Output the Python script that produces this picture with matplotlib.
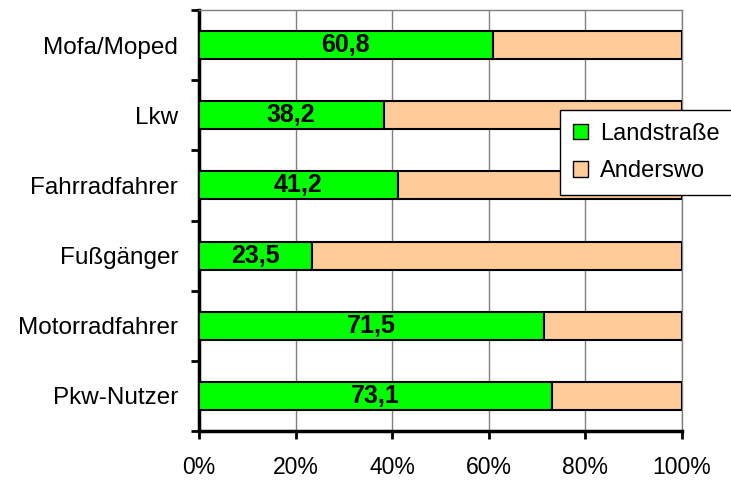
import numpy as np
import matplotlib
matplotlib.use('Agg')
import matplotlib.pyplot as plt

plt.rcParams['font.family'] = ['Liberation Sans', 'DejaVu Sans']

# Daten (von unten nach oben)
kategorien = ['Pkw-Nutzer', 'Motorradfahrer', 'Fußgänger', 'Fahrradfahrer', 'Lkw', 'Mofa/Moped']
landstrasse = [73.1, 71.5, 23.5, 41.2, 38.2, 60.8]
anderswo = [100 - v for v in landstrasse]

fig = plt.figure(figsize=(7.31, 4.82), dpi=100)
ax = fig.add_axes([0.2722, 0.1058, 0.6608, 0.8734])

y = np.arange(len(kategorien))
ax.barh(y, landstrasse, height=0.4, color='#00ff00', edgecolor='black', linewidth=1.5,
        label='Landstraße', zorder=3)
ax.barh(y, anderswo, left=landstrasse, height=0.4, color='#ffcc99', edgecolor='black',
        linewidth=1.5, label='Anderswo', zorder=3)

# Werte in die grünen Balken schreiben
for yi, v in zip(y, landstrasse):
    ax.text(v / 2, yi, f'{v:.1f}'.replace('.', ','), ha='center', va='center',
            fontsize=18, fontweight='bold', zorder=4)

ax.set_xlim(0, 100)
ax.set_ylim(-0.5, len(kategorien) - 0.5)
ax.set_xticks([0, 20, 40, 60, 80, 100])
ax.set_xticklabels(['0%', '20%', '40%', '60%', '80%', '100%'], fontsize=16.5)
ax.set_yticks(y)
ax.set_yticklabels(kategorien, fontsize=17.5)
ax.set_yticks(np.arange(-0.5, len(kategorien)), minor=True)
ax.tick_params(axis='y', which='major', length=0, pad=15)
ax.tick_params(axis='y', which='minor', length=6, width=2, direction='out')
ax.tick_params(axis='x', length=6, width=2, direction='out', pad=12)

ax.grid(axis='x', color='#808080', linewidth=1, zorder=0)
ax.spines['left'].set_linewidth(2.5)
ax.spines['bottom'].set_linewidth(2.5)
ax.spines['top'].set_color('#808080')
ax.spines['top'].set_linewidth(1)
ax.spines['right'].set_color('#808080')
ax.spines['right'].set_linewidth(1)

leg = ax.legend(loc='upper left', bbox_to_anchor=(0.766, 0.772), bbox_transform=fig.transFigure,
                fontsize=17, frameon=True, fancybox=False, edgecolor='black', framealpha=1,
                handlelength=0.65, handleheight=0.65, handletextpad=0.5, borderpad=0.55,
                labelspacing=0.65, borderaxespad=0)
leg.get_frame().set_linewidth(1)
for h in leg.legend_handles:
    h.set_linewidth(1)

fig.savefig('out.png', dpi=100)
